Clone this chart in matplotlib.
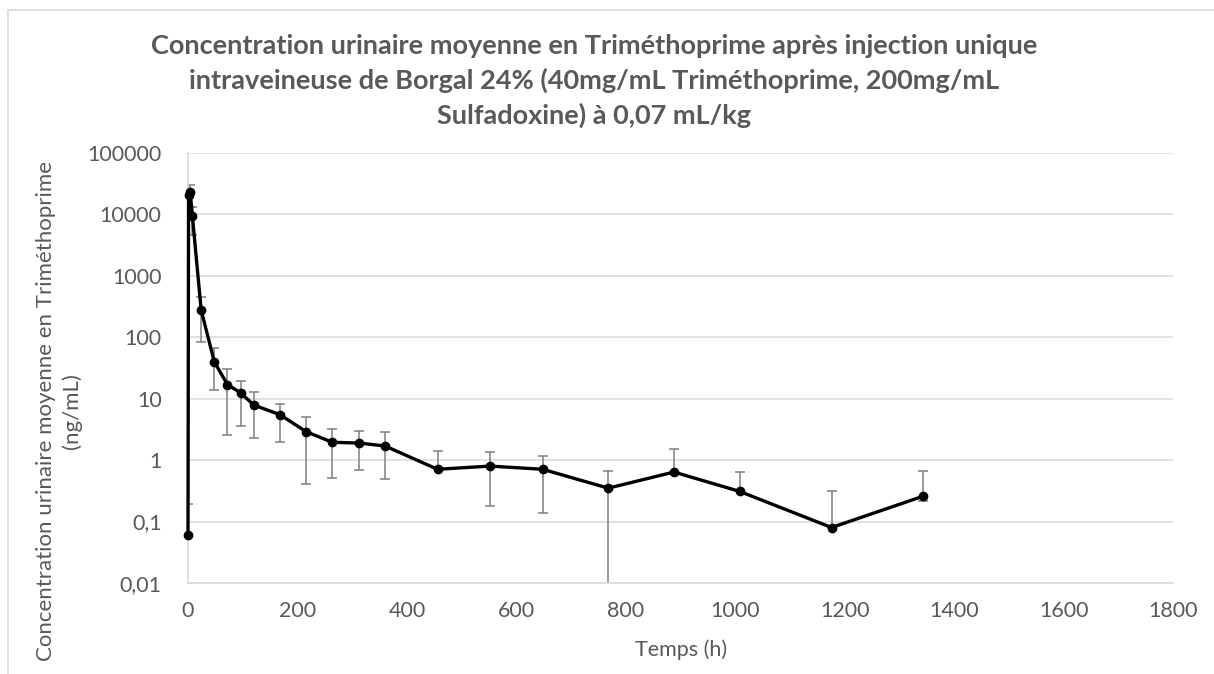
import matplotlib
matplotlib.use("Agg")
import matplotlib.pyplot as plt
import numpy as np
from matplotlib.patches import Rectangle

# ---- data ----
time_h = [0, 1, 4, 8, 24, 48, 72, 96, 120, 168, 216, 264, 312, 360, 456, 552, 648, 768, 888, 1008, 1176, 1344]
conc = [0.06, 21000, 23000, 9500, 280, 40, 17, 12.5, 7.9, 5.5, 2.9, 1.95, 1.9, 1.7, 0.71, 0.8, 0.71, 0.35, 0.64, 0.31, 0.08, 0.26]
err_high = [0.19, 21000, 30000, 13000, 450, 66, 30, 19.5, 13, 8.3, 5.0, 3.2, 3.0, 2.9, 1.4, 1.35, 1.17, 0.66, 1.5, 0.64, 0.32, 0.66]
err_low = [0.06, 21000, 13000, 4700, 83, 14, 2.6, 3.6, 2.3, 2.0, 0.41, 0.51, 0.69, 0.49, 0.71, 0.18, 0.14, 0.0001, 0.64, 0.31, 0.08, 0.22]

x_ticks = [0, 200, 400, 600, 800, 1000, 1200, 1400, 1600, 1800]
y_ticks = [0.01, 0.1, 1, 10, 100, 1000, 10000, 100000]
y_tick_labels = ["0,01", "0,1", "1", "10", "100", "1000", "10000", "100000"]

title = ("Concentration urinaire moyenne en Triméthoprime après injection unique\n"
         "intraveineuse de Borgal 24% (40mg/mL Triméthoprime, 200mg/mL\n"
         "Sulfadoxine) à 0,07 mL/kg")
x_label = "Temps (h)"
y_label = "Concentration urinaire moyenne en Triméthoprime\n(ng/mL)"

# ---- style ----
plt.rcParams['font.family'] = ['Lato', 'DejaVu Sans']
grey_text = "#595959"
grid_col = "#d9d9d9"

fig = plt.figure(figsize=(12.14, 6.74), dpi=100)
fig.patches.append(Rectangle((8 / 1214, -0.01), 1.2, 1 - 10 / 674 + 0.01,
                             transform=fig.transFigure, fill=False,
                             edgecolor="#d9d9d9", linewidth=1.2))
ax = fig.add_axes([188 / 1214, (674 - 583) / 674, (1173 - 188) / 1214, (583 - 153) / 674])

y = np.array(conc)
lo = y - np.array(err_low)
hi = np.array(err_high) - y
ax.errorbar(time_h, conc, yerr=[lo, hi], fmt='none', ecolor="#7f7f7f",
            elinewidth=1.1, capsize=3.5, capthick=1.1, zorder=2)
ax.plot(time_h, conc, color="black", linewidth=2.4, marker='o', markersize=6,
        zorder=3, clip_on=False)

ax.set_yscale('log')
ax.set_xlim(0, 1800)
ax.set_ylim(0.01, 100000)
ax.set_xticks(x_ticks)
ax.set_xticklabels([str(t) for t in x_ticks])
ax.set_yticks(y_ticks)
ax.set_yticklabels(y_tick_labels)
ax.yaxis.set_minor_locator(matplotlib.ticker.NullLocator())
ax.tick_params(axis='both', length=0, labelsize=15.5, colors=grey_text)
ax.tick_params(axis='y', pad=19)
ax.tick_params(axis='x', pad=13)
ax.grid(axis='y', color=grid_col, linewidth=1.1)
ax.set_axisbelow(True)
for s in ['top', 'right']:
    ax.spines[s].set_visible(False)
for s in ['left', 'bottom']:
    ax.spines[s].set_color(grid_col)
    ax.spines[s].set_linewidth(1.1)

fig.text(594 / 1214, 1 - 81 / 674, title, ha='center', va='center',
         fontsize=19.5, fontweight='bold', color=grey_text, linespacing=1.45)
fig.text(681 / 1214, 1 - 650 / 674, x_label, ha='center', va='center',
         fontsize=15.5, color=grey_text)
fig.text(59 / 1214, 1 - 411 / 674, y_label, ha='center', va='center',
         rotation=90, fontsize=16, color=grey_text, linespacing=1.35)

fig.savefig("out.png", dpi=100)
